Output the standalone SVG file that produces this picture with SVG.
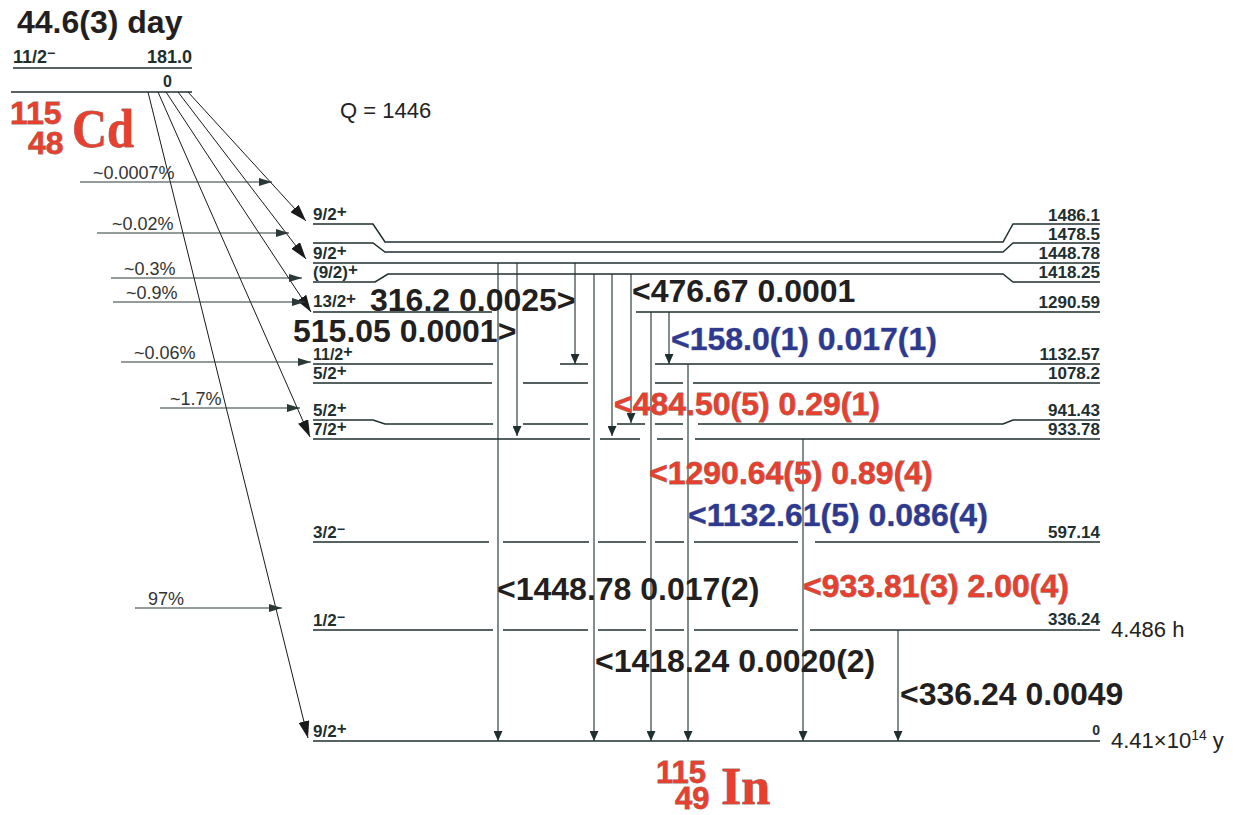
<svg xmlns="http://www.w3.org/2000/svg" width="1241" height="815" viewBox="0 0 1241 815">
<defs>
<marker id="g" markerUnits="userSpaceOnUse" markerWidth="10" markerHeight="9" refX="10" refY="4.5" orient="auto"><path d="M0,0 L10,4.5 L0,9 z" fill="#1f2f2f"/></marker>
<marker id="b" markerUnits="userSpaceOnUse" markerWidth="17" markerHeight="11" refX="17" refY="5.5" orient="auto"><path d="M0,0 L17,5.5 L0,11 z" fill="#1a1a1a"/></marker>
<marker id="h" markerUnits="userSpaceOnUse" markerWidth="13" markerHeight="8" refX="13" refY="4" orient="auto"><path d="M0,0 L13,4 L0,8 z" fill="#2a3838"/></marker>
</defs>
<style>
.lv{fill:none;stroke:#1f2f2f;stroke-width:1.5}
.gm{fill:none;stroke:#1f2f2f;stroke-width:1.1;marker-end:url(#g)}
.bt{fill:none;stroke:#1a1a1a;stroke-width:1;marker-end:url(#b)}
.hz{fill:none;stroke:#2a3838;stroke-width:1.2;marker-end:url(#h)}
text{font-family:"Liberation Sans",Arial,sans-serif}
.sp{font-weight:bold;font-size:17px;fill:#1f2f2f}
.en{font-weight:bold;font-size:17px;fill:#1f2f2f;text-anchor:end}
.big{font-weight:bold;font-size:32px;fill:#231f20}
.red{fill:#e8402f;stroke:#8c7b79;stroke-width:0.8px;paint-order:stroke}
.blue{fill:#2e3a8f;stroke:#8a8aa0;stroke-width:0.6px;paint-order:stroke}
.pc{font-size:18px;fill:#333}
.nm{font-size:22px;fill:#222}
.nuc{font-weight:bold;fill:#e8402f;stroke:#8c7b79;stroke-width:0.8px;paint-order:stroke}
.el{font-family:"Liberation Serif","Times New Roman",serif;font-weight:bold;fill:#e8402f;stroke:#8c7b79;stroke-width:0.8px;paint-order:stroke}
</style>
<rect width="1241" height="815" fill="#fff"/>

<g id="parent">
<text x="17" y="33" style="font-weight:bold;font-size:32px;fill:#231f20">44.6(3) day</text>
<path class="lv" d="M13,68 H192"/>
<text class="sp" x="13" y="63" style="font-size:18px">11/2<tspan dy="-5" font-size="14">−</tspan></text>
<text class="en" x="192" y="63" style="font-size:18px">181.0</text>
<path class="lv" d="M11,92 H192"/>
<text class="sp" x="163" y="87" style="font-size:16px">0</text>
<text class="nuc" x="10" y="124" style="font-size:32px">115</text>
<text class="nuc" x="28" y="154" style="font-size:32px">48</text>
<text class="el" x="72" y="147" style="font-size:54px" textLength="62" lengthAdjust="spacingAndGlyphs">Cd</text>
</g>

<text id="qvalue" class="nm" x="340" y="118">Q = 1446</text>

<g id="connectors">
<path class="bt" d="M188,92 L306,221"/>
<path class="bt" d="M178,92 L306,259"/>
<path class="bt" d="M166,92 L311,312"/>
<path class="bt" d="M158,92 L310,437"/>
<path class="bt" d="M148,92 L308,738"/>
<path class="hz" d="M80,182 H272"/>
<path class="hz" d="M97,233 H289"/>
<path class="hz" d="M111,278 H302"/>
<path class="hz" d="M113,302 H305"/>
<path class="hz" d="M121,362 H311"/>
<path class="hz" d="M160,408 H300"/>
<path class="hz" d="M135,608 H282"/>
<path class="gm" d="M498,263 V741"/>
<path class="gm" d="M517,263 V436"/>
<path class="gm" d="M575,263 V364"/>
<path class="gm" d="M594,274 V741"/>
<path class="gm" d="M612,274 V436"/>
<path class="gm" d="M631,274 V423"/>
<path class="gm" d="M651,312 V741"/>
<path class="gm" d="M669,312 V364"/>
<path class="gm" d="M688,364 V741"/>
<path class="gm" d="M803,439 V741"/>
<path class="gm" d="M898,630 V741"/>
</g>

<g id="feeding-labels">
<text class="pc" x="93" y="179">~0.0007%</text>
<text class="pc" x="112" y="230">~0.02%</text>
<text class="pc" x="124" y="275">~0.3%</text>
<text class="pc" x="126" y="299">~0.9%</text>
<text class="pc" x="134" y="359">~0.06%</text>
<text class="pc" x="170" y="405">~1.7%</text>
<text class="pc" x="148" y="605">97%</text>
</g>

<g id="L1486">
<path class="lv" d="M313,224 H373 L385,242 H1003 L1013,224 H1100"/>
<text class="sp" x="313" y="220">9/2<tspan dy="-3">+</tspan></text>
<text class="en" x="1100" y="221">1486.1</text>
</g>
<g id="L1478">
<path class="lv" d="M313,243 H373 L385,252 H1003 L1013,243 H1100"/>
<text class="en" x="1100" y="240">1478.5</text>
</g>
<g id="L1448">
<path class="lv" d="M313,263 H1100"/>
<text class="sp" x="313" y="259">9/2<tspan dy="-3">+</tspan></text>
<text class="en" x="1100" y="259">1448.78</text>
</g>
<g id="L1418">
<path class="lv" d="M313,282 H375 L388,274 H1003 L1013,282 H1100"/>
<text class="sp" x="313" y="278">(9/2)<tspan dy="-3">+</tspan></text>
<text class="en" x="1100" y="278">1418.25</text>
</g>
<g id="L1290">
<path class="lv" d="M313,312 H492 M636,312 H1100"/>
<text class="sp" x="313" y="307">13/2<tspan dy="-3">+</tspan></text>
<text class="en" x="1100" y="308">1290.59</text>
</g>
<g id="L1132">
<path class="lv" d="M313,364 H493 M560,364 H588 M655,364 H1100"/>
<text class="sp" x="313" y="360" style="font-size:16px">11/2<tspan dy="-3">+</tspan></text>
<text class="en" x="1100" y="360">1132.57</text>
</g>
<g id="L1078">
<path class="lv" d="M313,383 H492 M523,383 H588 M655,383 H683 M693,383 H1100"/>
<text class="sp" x="313" y="379">5/2<tspan dy="-3">+</tspan></text>
<text class="en" x="1100" y="379">1078.2</text>
</g>
<g id="L941">
<path class="lv" d="M313,420 H373 L385,424 H493 M523,424 H588 M617,424 H645 M655,424 H683 M698,424 H1003 L1013,420 H1100"/>
<text class="sp" x="313" y="416">5/2<tspan dy="-3">+</tspan></text>
<text class="en" x="1100" y="416">941.43</text>
</g>
<g id="L933">
<path class="lv" d="M313,439 H590 M600,439 H640 M657,439 H683 M695,439 H1100"/>
<text class="sp" x="313" y="435">7/2<tspan dy="-3">+</tspan></text>
<text class="en" x="1100" y="435">933.78</text>
</g>
<g id="L597">
<path class="lv" d="M313,542 H489 M503,542 H589 M598,542 H646 M655,542 H684 M694,542 H798 M815,542 H1100"/>
<text class="sp" x="313" y="538">3/2<tspan dy="-4" font-size="14">−</tspan></text>
<text class="en" x="1100" y="538">597.14</text>
</g>
<g id="L336">
<path class="lv" d="M313,630 H493 M503,630 H588 M598,630 H646 M655,630 H684 M694,630 H798 M810,630 H1100"/>
<text class="sp" x="313" y="626">1/2<tspan dy="-4" font-size="14">−</tspan></text>
<text class="en" x="1100" y="625">336.24</text>
<text class="nm" x="1111" y="637">4.486 h</text>
</g>
<g id="L0">
<path class="lv" d="M313,741 H1100"/>
<text class="sp" x="313" y="737">9/2<tspan dy="-3">+</tspan></text>
<text class="en" x="1100" y="735" style="font-size:14px">0</text>
<text class="nm" x="1111" y="748">4.41×10<tspan dy="-8" font-size="14">14</tspan><tspan dy="8"> y</tspan></text>
</g>

<g id="gamma-labels">
<text class="big" x="370" y="311">316.2 0.0025&gt;</text>
<text class="big" x="293" y="342">515.05 0.0001&gt;</text>
<text class="big" x="632" y="302">&lt;476.67 0.0001</text>
<text class="big blue" x="671" y="350">&lt;158.0(1) 0.017(1)</text>
<text class="big red" x="614" y="415">&lt;484.50(5) 0.29(1)</text>
<text class="big red" x="649" y="484">&lt;1290.64(5) 0.89(4)</text>
<text class="big blue" x="688" y="526">&lt;1132.61(5) 0.086(4)</text>
<text class="big red" x="803" y="597">&lt;933.81(3) 2.00(4)</text>
<text class="big" x="497" y="600">&lt;1448.78 0.017(2)</text>
<text class="big" x="595" y="672">&lt;1418.24 0.0020(2)</text>
<text class="big" x="900" y="705">&lt;336.24 0.0049</text>
</g>

<g id="daughter">
<text class="nuc" x="656" y="783" style="font-size:31px">115</text>
<text class="nuc" x="675" y="809" style="font-size:31px">49</text>
<text class="el" x="721" y="804" style="font-size:52px">In</text>
</g>
</svg>
